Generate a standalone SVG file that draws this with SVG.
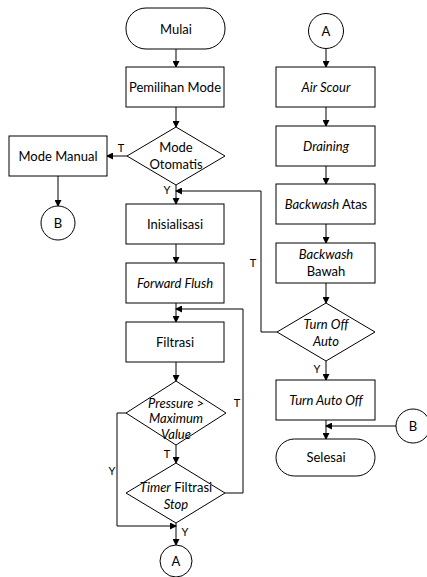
<svg xmlns="http://www.w3.org/2000/svg" width="427" height="577" viewBox="0 0 427 577">
<style>
.s{fill:#fff;stroke:#000;stroke-width:1}
.c{fill:none;stroke:#000;stroke-width:1}
text{font-family:Lato,"Open Sans",sans-serif;font-size:13px;fill:#000;text-anchor:middle;dominant-baseline:central}
.i{font-style:italic}
.l{font-size:11px}
</style>
<defs>
<marker id="a" markerWidth="7" markerHeight="7" refX="6" refY="3.5" orient="auto" markerUnits="userSpaceOnUse">
<path d="M0,0 L7,3.5 L0,7 z" fill="#000"/>
</marker>
</defs>
<rect width="427" height="577" fill="#fff"/>
<g id="connectors">
<path class="c" d="M176,49 V67" marker-end="url(#a)"/>
<path class="c" d="M176,107 V127" marker-end="url(#a)"/>
<path class="c" d="M127,156 H107" marker-end="url(#a)"/>
<path class="c" d="M58,176 V206" marker-end="url(#a)"/>
<path class="c" d="M176,185 V204" marker-end="url(#a)"/>
<path class="c" d="M176,244 V263" marker-end="url(#a)"/>
<path class="c" d="M176,303 V322" marker-end="url(#a)"/>
<path class="c" d="M176,362 V381" marker-end="url(#a)"/>
<path class="c" d="M176,445 V463" marker-end="url(#a)"/>
<path class="c" d="M176,523 V545" marker-end="url(#a)"/>
<path class="c" d="M126,413 H117 V526 H176" marker-end="url(#a)"/>
<path class="c" d="M225,493 H243 V309 H176" marker-end="url(#a)"/>
<path class="c" d="M277,332 H261 V191 H176" marker-end="url(#a)"/>
<path class="c" d="M326,49 V67" marker-end="url(#a)"/>
<path class="c" d="M326,107 V126" marker-end="url(#a)"/>
<path class="c" d="M326,166 V184" marker-end="url(#a)"/>
<path class="c" d="M326,224 V243" marker-end="url(#a)"/>
<path class="c" d="M326,283 V303" marker-end="url(#a)"/>
<path class="c" d="M326,361 V380" marker-end="url(#a)"/>
<path class="c" d="M326,420 V439" marker-end="url(#a)"/>
<path class="c" d="M396,426 H326" marker-end="url(#a)"/>
<text class="l" x="121" y="147">T</text>
<text class="l" x="167" y="189">Y</text>
<text class="l" x="253" y="262">T</text>
<text class="l" x="237" y="402">T</text>
<text class="l" x="167" y="453">T</text>
<text class="l" x="112" y="470">Y</text>
<text class="l" x="185" y="531">Y</text>
<text class="l" x="317" y="368">Y</text>
</g>
<g id="mulai"><rect class="s" x="126" y="8" width="99" height="41" rx="20"/><text x="176" y="29">Mulai</text></g>
<g id="pemilihan"><rect class="s" x="126" y="67" width="98" height="40"/><text x="175" y="87">Pemilihan Mode</text></g>
<g id="modeoto"><path class="s" d="M176,127 L225,156 L176,185 L127,156 Z"/><text x="176" y="147">Mode</text><text x="176" y="164">Otomatis</text></g>
<g id="manual"><rect class="s" x="9" y="136" width="98" height="40"/><text x="58" y="156">Mode Manual</text></g>
<g id="b1"><circle class="s" cx="58" cy="223" r="17"/><text x="58" y="223">B</text></g>
<g id="init"><rect class="s" x="126" y="204" width="98" height="40"/><text x="175" y="224">Inisialisasi</text></g>
<g id="ff"><rect class="s" x="126" y="263" width="98" height="40"/><text class="i" x="175" y="283">Forward Flush</text></g>
<g id="filtrasi"><rect class="s" x="126" y="322" width="98" height="40"/><text x="175" y="342">Filtrasi</text></g>
<g id="pressure"><path class="s" d="M176,381 L226,413 L176,445 L126,413 Z"/><text class="i" x="176" y="403">Pressure &gt;</text><text class="i" x="176" y="418">Maximum</text><text class="i" x="176" y="434">Value</text></g>
<g id="timer"><path class="s" d="M176,463 L225,493 L176,523 L126,493 Z"/><text x="176" y="487"><tspan class="i">Timer</tspan> Filtrasi</text><text class="i" x="176" y="504">Stop</text></g>
<g id="a1"><circle class="s" cx="176" cy="561" r="16"/><text x="176" y="561">A</text></g>
<g id="a2"><circle class="s" cx="326" cy="31" r="17.5"/><text x="326" y="31">A</text></g>
<g id="air"><rect class="s" x="276" y="67" width="99" height="40"/><text class="i" x="326" y="87">Air Scour</text></g>
<g id="drain"><rect class="s" x="276" y="126" width="99" height="40"/><text class="i" x="326" y="146">Draining</text></g>
<g id="bwatas"><rect class="s" x="276" y="184" width="99" height="40"/><text x="326" y="204"><tspan class="i">Backwash</tspan> Atas</text></g>
<g id="bwbawah"><rect class="s" x="276" y="243" width="99" height="40"/><text class="i" x="326" y="254">Backwash</text><text x="326" y="271">Bawah</text></g>
<g id="turnoff"><path class="s" d="M326,303 L375,332 L326,361 L277,332 Z"/><text class="i" x="326" y="324">Turn Off</text><text class="i" x="326" y="341">Auto</text></g>
<g id="tao"><rect class="s" x="276" y="380" width="99" height="40"/><text class="i" x="326" y="400">Turn Auto Off</text></g>
<g id="b2"><circle class="s" cx="413" cy="426" r="17"/><text x="413" y="426">B</text></g>
<g id="selesai"><rect class="s" x="276" y="439" width="99" height="37" rx="18.5"/><text x="326" y="457">Selesai</text></g>
</svg>
